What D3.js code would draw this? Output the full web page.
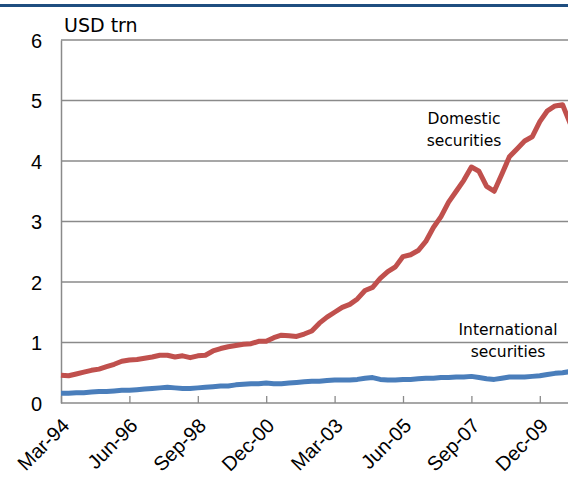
<!DOCTYPE html>
<html><head><meta charset="utf-8">
<script src="https://cdn.jsdelivr.net/npm/d3@7"></script>
<style>
html,body{margin:0;padding:0;background:#fff;}
svg{display:block;font-family:"DejaVu Sans",Verdana,sans-serif;}
</style></head>
<body>
<svg id="chart" width="568" height="481"></svg>
<script>
// Quarterly categories Mar-94 .. Dec-10
const months = ["Mar","Jun","Sep","Dec"];
const categories = [];
for (let yr = 1994; yr <= 2010; yr++) for (const m of months) categories.push(m + "-" + String(yr % 100).padStart(2, "0"));

const domestic = [0.46,0.45,0.48,0.51,0.54,0.56,0.60,0.64,0.69,0.71,
  0.72,0.74,0.76,0.79,0.79,0.76,0.78,0.75,0.78,0.79,
  0.86,0.90,0.93,0.95,0.97,0.98,1.02,1.02,1.08,1.12,
  1.11,1.10,1.14,1.19,1.32,1.42,1.50,1.58,1.63,1.72,
  1.86,1.91,2.06,2.17,2.25,2.42,2.45,2.52,2.67,2.90,
  3.08,3.32,3.50,3.68,3.90,3.83,3.58,3.50,3.78,4.07,
  4.20,4.33,4.40,4.65,4.83,4.91,4.93,4.62];
const international = [0.16,0.16,0.17,0.17,0.18,0.19,0.19,0.20,0.21,0.21,
  0.22,0.23,0.24,0.25,0.26,0.25,0.24,0.24,0.25,0.26,
  0.27,0.28,0.28,0.30,0.31,0.32,0.32,0.33,0.32,0.32,
  0.33,0.34,0.35,0.36,0.36,0.37,0.38,0.38,0.38,0.39,
  0.41,0.42,0.39,0.38,0.38,0.39,0.39,0.40,0.41,0.41,
  0.42,0.42,0.43,0.43,0.44,0.42,0.40,0.39,0.41,0.43,
  0.43,0.43,0.44,0.45,0.47,0.49,0.50,0.52];
const tickLabels = ["Mar-94","Jun-96","Sep-98","Dec-00","Mar-03","Jun-05","Sep-07","Dec-09"];
const yTicks = [0,1,2,3,4,5,6];
const unitLabel = "USD trn";
const seriesLabels = [["Domestic","securities"],["International","securities"]];

(function () {
const svg = d3.select("#chart");
const mLeft = 61, mTop = 40, mBottom = 403, mRight = 575;
const x = d3.scaleLinear().domain([0, categories.length - 1]).range([mLeft, mLeft + 7.6 * (categories.length - 1)]);
const y = d3.scaleLinear().domain([0, 6]).range([mBottom, mTop]);
const grey = "#8a8a8a";

// top banner line
svg.append("rect").attr("x", 0).attr("y", 4).attr("width", 568).attr("height", 3).attr("fill", "#1f4e80");

// gridlines
svg.append("g").selectAll("line").data(yTicks.filter(d => d > 0)).join("line")
  .attr("x1", mLeft).attr("x2", mRight).attr("y1", d => y(d)).attr("y2", d => y(d))
  .attr("stroke", grey).attr("stroke-width", 1.3);

// y axis
const yAxis = svg.append("g").attr("transform", `translate(${mLeft},0)`)
  .call(d3.axisLeft(y).tickValues(yTicks).tickFormat(d3.format("d")).tickSize(0).tickPadding(19));
yAxis.select(".domain").attr("stroke", grey).attr("stroke-width", 1.5);
yAxis.selectAll("text").attr("font-size", 20).attr("fill", "#000").attr("dy", "0.36em");

// x axis
const tickIdx = tickLabels.map(l => categories.indexOf(l));
const xAxis = svg.append("g").attr("transform", `translate(0,${mBottom})`)
  .call(d3.axisBottom(x).tickValues(tickIdx).tickSize(-7).tickFormat(i => categories[i]));
xAxis.select(".domain").attr("d", `M${mLeft},0H${mRight}`).attr("stroke", grey).attr("stroke-width", 1.5);
xAxis.selectAll(".tick line").attr("stroke", grey).attr("stroke-width", 1.3);
xAxis.selectAll("text").attr("font-size", 20).attr("fill", "#000")
  .attr("text-anchor", "end").attr("dy", 0).attr("y", 0)
  .attr("transform", "translate(9,24) rotate(-45)");

// lines
const line = d3.line().x((d, i) => x(i)).y(d => y(d));
svg.append("path").datum(international).attr("d", line)
  .attr("fill", "none").attr("stroke", "#4a7ebb").attr("stroke-width", 5).attr("stroke-linejoin", "round");
svg.append("path").datum(domestic).attr("d", line)
  .attr("fill", "none").attr("stroke", "#c0504d").attr("stroke-width", 5).attr("stroke-linejoin", "round");

// unit label
svg.append("text").attr("x", 64).attr("y", 32).attr("font-size", 19).text(unitLabel);

// series labels
const lab = [[464, 124], [508, 335]];
seriesLabels.forEach((lines, k) => {
  const t = svg.append("text").attr("text-anchor", "middle").attr("font-size", 15.5).attr("fill", "#000");
  lines.forEach((s, j) => t.append("tspan").attr("x", lab[k][0]).attr("y", lab[k][1] + j * 22).text(s));
});
})();
</script>
</body></html>
